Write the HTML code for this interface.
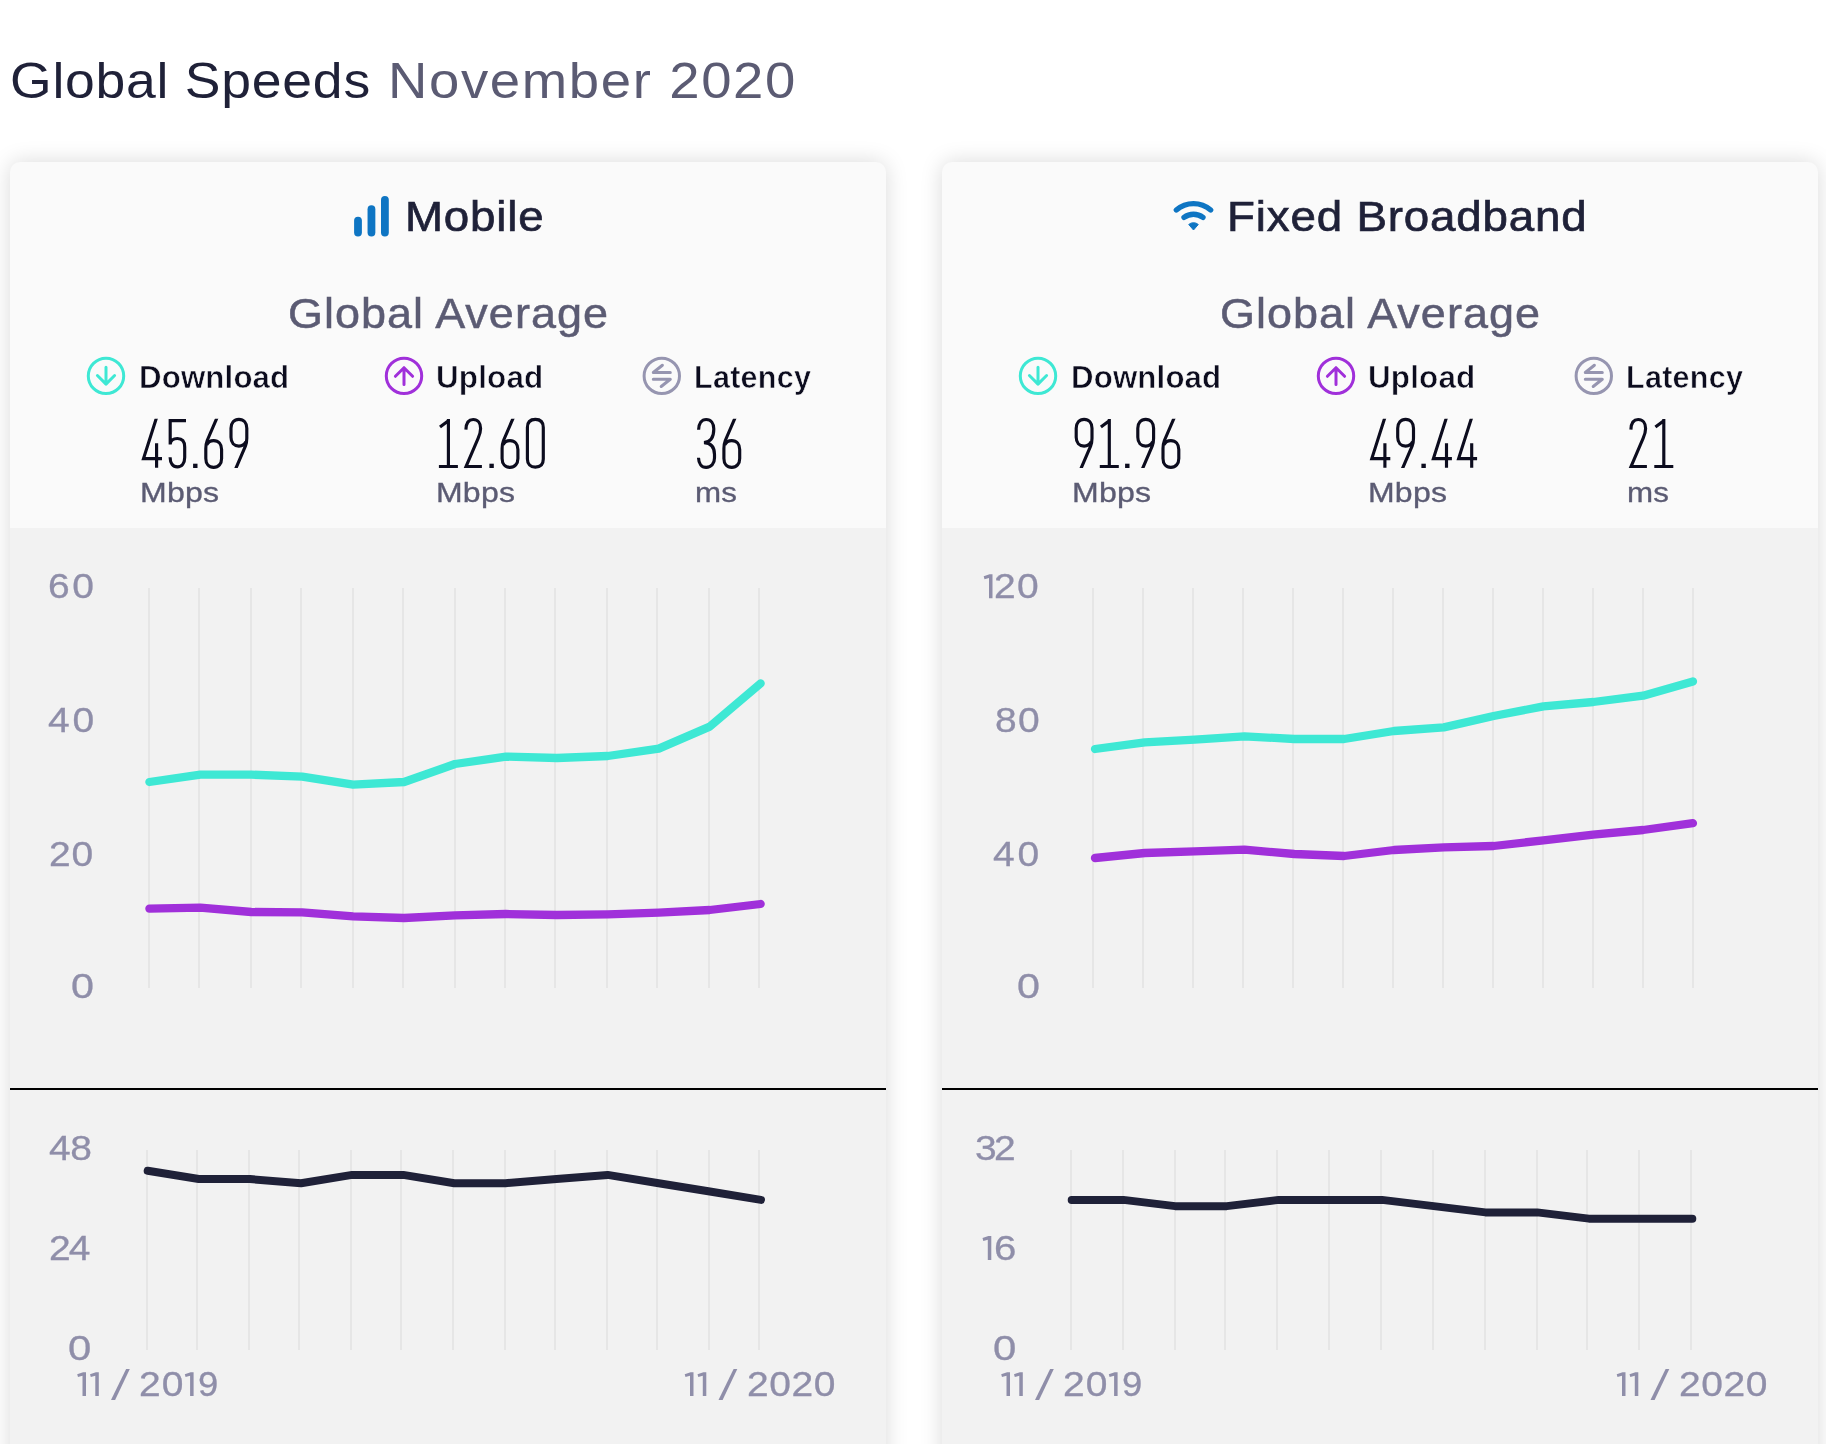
<!DOCTYPE html>
<html lang="en"><head><meta charset="utf-8"><title>Global Speeds November 2020</title>
<style>
html,body{margin:0;padding:0;}
body{width:1826px;height:1444px;background:#fff;font-family:"Liberation Sans", sans-serif;}
#page{position:relative;width:1826px;height:1444px;overflow:hidden;background:#fff;}
.card{position:absolute;top:162px;width:876px;height:1400px;border-radius:10px 10px 0 0;background:#f2f2f2;
  box-shadow:0 0 22px rgba(0,0,0,0.15);overflow:hidden;}
.card .head{position:absolute;left:0;top:0;width:100%;height:366px;background:#fafafa;}
.card .rule{position:absolute;left:0;top:926px;width:100%;height:2px;background:#000;}
.tx{position:absolute;margin:0;padding:0;white-space:pre;line-height:1;font-weight:400;font-family:"Liberation Sans", sans-serif;transform-origin:0 0;}
svg.ov{position:absolute;left:0;top:0;}
.labels,h1{will-change:transform;margin:0;height:0;}
</style></head>
<body>
<main id="page">
<h1 style="margin:0;font-size:0"><span id="t1" class="tx " style="left:10.28px;top:55.77px;font-size:50.00px;color:#1f2138;letter-spacing:0.714px;transform:scaleX(1.0700);">Global Speeds</span><span id="t2" class="tx " style="left:388.00px;top:55.77px;font-size:50.00px;color:#5b5b73;letter-spacing:1.497px;transform:scaleX(1.0900);">November 2020</span></h1>
<section class="card" id="mobile" style="left:10px"><div class="head"></div><div class="rule"></div></section>
<section class="card" id="fixed" style="left:942px"><div class="head"></div><div class="rule"></div></section>
<svg class="ov" width="1826" height="1444" viewBox="0 0 1826 1444"><defs><clipPath id="ck"><rect x="-6" y="-49.25" width="40" height="60"/></clipPath></defs><rect x="354.10" y="216.8" width="7.8" height="19.60" rx="3.9" fill="#0e75c3"/><rect x="367.55" y="205.3" width="7.8" height="31.10" rx="3.9" fill="#0e75c3"/><rect x="381.00" y="195.9" width="7.8" height="40.50" rx="3.9" fill="#0e75c3"/>
<circle cx="106" cy="375.9" r="17.7" fill="none" stroke="#3ee8d4" stroke-width="3"/><path d="M106,367.30 V383.90 M97.40,375.50 L106,384.10 L114.60,375.50" fill="none" stroke="#3ee8d4" stroke-width="3" stroke-linecap="round" stroke-linejoin="round"/>
<g aria-label="45.69"><g fill="none" stroke="#0c0c1e" stroke-width="3.15" stroke-linejoin="miter" stroke-miterlimit="6"><path clip-path="url(#ck)" transform="translate(141.60,468.00)" d="M15.14,-51 L1.9,-9.4 H20.4 M15,-24.8 V-0.2"/><path transform="translate(168.50,468.00)" d="M17.5,-47.4 H1.7 V-23.4 M1.7,-24 C2.2,-27.6 4.8,-29.5 8.9,-29.5 C13.6,-29.5 16.2,-26.3 16.2,-21 V-10.4 C16.2,-4.8 13.4,-1.1 8.8,-1.1 C4.3,-1.1 1.7,-4.8 1.6,-10.7"/><rect x="193.10" y="463.70" width="4.4" height="4.3" fill="#0c0c1e" stroke="none"/><path clip-path="url(#ck)" transform="translate(204.30,468.00)" d="M13.03,-51 L2.9,-27.5 C2,-25.2 1.5,-22.5 1.5,-19.5 V-9.6 C1.5,-4.2 4.6,-0.7 9.4,-0.7 C14.2,-0.7 17.3,-4.2 17.3,-9.6 V-18.6 C17.3,-24 14.2,-27.4 9.4,-27.4 C6.2,-27.4 3.6,-25.8 2.4,-23"/><path clip-path="url(#ck)" transform="translate(248.30,418.70) rotate(180)" d="M13.03,-51 L2.9,-27.5 C2,-25.2 1.5,-22.5 1.5,-19.5 V-9.6 C1.5,-4.2 4.6,-0.7 9.4,-0.7 C14.2,-0.7 17.3,-4.2 17.3,-9.6 V-18.6 C17.3,-24 14.2,-27.4 9.4,-27.4 C6.2,-27.4 3.6,-25.8 2.4,-23"/></g></g>
<circle cx="404" cy="375.9" r="17.7" fill="none" stroke="#a030da" stroke-width="3"/><path d="M404,384.50 V367.90 M395.40,376.30 L404,367.70 L412.60,376.30" fill="none" stroke="#a030da" stroke-width="3" stroke-linecap="round" stroke-linejoin="round"/>
<g aria-label="12.60"><g fill="none" stroke="#0c0c1e" stroke-width="3.15" stroke-linejoin="miter" stroke-miterlimit="6"><path transform="translate(438.90,468.00)" d="M1.1,-40.9 L9.5,-47.3 M9.5,-49 V-1.5 M0,-1.5 H19"/><path transform="translate(464.20,468.00)" d="M1.7,-38.4 C1.9,-44.6 4.4,-48.5 9,-48.5 C13.6,-48.5 16.4,-44.8 16.4,-39.6 C16.4,-36 15.4,-33 13.9,-29.6 L1.9,-1.5 H17.7"/><rect x="489.40" y="463.70" width="4.4" height="4.3" fill="#0c0c1e" stroke="none"/><path clip-path="url(#ck)" transform="translate(500.60,468.00)" d="M13.03,-51 L2.9,-27.5 C2,-25.2 1.5,-22.5 1.5,-19.5 V-9.6 C1.5,-4.2 4.6,-0.7 9.4,-0.7 C14.2,-0.7 17.3,-4.2 17.3,-9.6 V-18.6 C17.3,-24 14.2,-27.4 9.4,-27.4 C6.2,-27.4 3.6,-25.8 2.4,-23"/><path transform="translate(525.80,468.00)" d="M1.6,-40.6 C1.6,-45.8 4.6,-48.7 9.55,-48.7 C14.5,-48.7 17.5,-45.8 17.5,-40.6 V-9 C17.5,-3.8 14.5,-0.9 9.55,-0.9 C4.6,-0.9 1.6,-3.8 1.6,-9 Z"/></g></g>
<circle cx="661.8" cy="375.9" r="17.7" fill="none" stroke="#9695b0" stroke-width="3"/><path d="M670.30,372.50 H653.30 L662.40,365.30 M653.30,379.30 H670.30 L661.20,386.50" fill="none" stroke="#9695b0" stroke-width="3" stroke-linecap="round" stroke-linejoin="round"/>
<g aria-label="36"><g fill="none" stroke="#0c0c1e" stroke-width="3.15" stroke-linejoin="miter" stroke-miterlimit="6"><path transform="translate(697.20,468.00)" d="M1.4,-38.2 C1.6,-44.6 4.4,-48.5 9,-48.5 C13.8,-48.5 16.6,-44.6 16.6,-39 C16.6,-31 13.4,-26 6.8,-25.4 C13.9,-25 17.3,-20.5 17.3,-13.5 V-10 C17.3,-4.4 14,-0.6 9,-0.6 C4.3,-0.6 1.5,-4.4 1.3,-10.3"/><path clip-path="url(#ck)" transform="translate(722.40,468.00)" d="M13.03,-51 L2.9,-27.5 C2,-25.2 1.5,-22.5 1.5,-19.5 V-9.6 C1.5,-4.2 4.6,-0.7 9.4,-0.7 C14.2,-0.7 17.3,-4.2 17.3,-9.6 V-18.6 C17.3,-24 14.2,-27.4 9.4,-27.4 C6.2,-27.4 3.6,-25.8 2.4,-23"/></g></g>
<path d="M149,588 V988 M199,588 V988 M251,588 V988 M301,588 V988 M353,588 V988 M403,588 V988 M455,588 V988 M505,588 V988 M555,588 V988 M607,588 V988 M657,588 V988 M709,588 V988 M759,588 V988" stroke="#e6e6e6" stroke-width="2" fill="none"/><polyline points="149.40,782.00 200.34,774.67 251.28,774.67 302.21,776.67 353.15,784.67 404.09,782.00 455.02,764.00 505.96,756.67 556.90,758.00 607.84,756.00 658.77,748.67 709.71,726.67 760.65,683.40" fill="none" stroke="#3ee8d4" stroke-width="8.3" stroke-linecap="round" stroke-linejoin="round"/><polyline points="149.40,908.67 200.34,907.67 251.28,912.00 302.21,912.33 353.15,916.33 404.09,918.00 455.02,915.33 505.96,914.00 556.90,915.00 607.84,914.33 658.77,912.67 709.71,910.00 760.65,904.00" fill="none" stroke="#a030da" stroke-width="8.3" stroke-linecap="round" stroke-linejoin="round"/><path d="M147,1150 V1350 M197,1150 V1350 M249,1150 V1350 M299,1150 V1350 M351,1150 V1350 M401,1150 V1350 M453,1150 V1350 M505,1150 V1350 M555,1150 V1350 M607,1150 V1350 M657,1150 V1350 M709,1150 V1350 M759,1150 V1350" stroke="#e6e6e6" stroke-width="2" fill="none"/><polyline points="147.70,1170.73 198.80,1179.07 249.91,1179.07 301.01,1183.23 352.12,1174.90 403.22,1174.90 454.32,1183.23 505.43,1183.23 556.53,1179.07 607.64,1174.90 658.74,1183.23 709.85,1191.57 760.95,1199.90" fill="none" stroke="#1f2138" stroke-width="8.0" stroke-linecap="round" stroke-linejoin="round"/>
<g aria-label="11 /"><polygon fill="#8f8ea9" points="86.00,1372.20 83.10,1372.20 77.20,1374.20 78.00,1377.10 82.50,1375.80 82.50,1396.10 86.00,1396.10"/><polygon fill="#8f8ea9" points="98.80,1372.20 95.90,1372.20 90.00,1374.20 90.80,1377.10 95.30,1375.80 95.30,1396.10 98.80,1396.10"/><polygon fill="#8f8ea9" points="111.00,1400.10 115.10,1400.10 129.80,1369.00 126.10,1369.00"/></g>
<polygon fill="#8f8ea9" points="193.60,1372.20 190.70,1372.20 184.80,1374.20 185.60,1377.10 190.10,1375.80 190.10,1396.10 193.60,1396.10"/>
<g aria-label="11 /"><polygon fill="#8f8ea9" points="693.50,1372.20 690.60,1372.20 684.70,1374.20 685.50,1377.10 690.00,1375.80 690.00,1396.10 693.50,1396.10"/><polygon fill="#8f8ea9" points="706.30,1372.20 703.40,1372.20 697.50,1374.20 698.30,1377.10 702.80,1375.80 702.80,1396.10 706.30,1396.10"/><polygon fill="#8f8ea9" points="718.50,1400.10 722.60,1400.10 737.30,1369.00 733.60,1369.00"/></g>
<path d="M1176.35,209.93 A26.4,26.4 0 0 1 1210.65,209.93 M1184.05,217.46 A15.7,15.7 0 0 1 1202.95,217.46" fill="none" stroke="#0e75c3" stroke-width="5.4" stroke-linecap="round"/><path d="M1193.5,230.0 L1188.71,224.49 A7.3,7.3 0 0 1 1198.29,224.49 Z" fill="#0e75c3" stroke="#0e75c3" stroke-width="1" stroke-linejoin="round"/>
<circle cx="1038" cy="375.9" r="17.7" fill="none" stroke="#3ee8d4" stroke-width="3"/><path d="M1038,367.30 V383.90 M1029.40,375.50 L1038,384.10 L1046.60,375.50" fill="none" stroke="#3ee8d4" stroke-width="3" stroke-linecap="round" stroke-linejoin="round"/>
<g aria-label="91.96"><g fill="none" stroke="#0c0c1e" stroke-width="3.15" stroke-linejoin="miter" stroke-miterlimit="6"><path clip-path="url(#ck)" transform="translate(1093.50,418.70) rotate(180)" d="M13.03,-51 L2.9,-27.5 C2,-25.2 1.5,-22.5 1.5,-19.5 V-9.6 C1.5,-4.2 4.6,-0.7 9.4,-0.7 C14.2,-0.7 17.3,-4.2 17.3,-9.6 V-18.6 C17.3,-24 14.2,-27.4 9.4,-27.4 C6.2,-27.4 3.6,-25.8 2.4,-23"/><path transform="translate(1099.80,468.00)" d="M1.1,-40.9 L9.5,-47.3 M9.5,-49 V-1.5 M0,-1.5 H19"/><rect x="1125.10" y="463.70" width="4.4" height="4.3" fill="#0c0c1e" stroke="none"/><path clip-path="url(#ck)" transform="translate(1155.10,418.70) rotate(180)" d="M13.03,-51 L2.9,-27.5 C2,-25.2 1.5,-22.5 1.5,-19.5 V-9.6 C1.5,-4.2 4.6,-0.7 9.4,-0.7 C14.2,-0.7 17.3,-4.2 17.3,-9.6 V-18.6 C17.3,-24 14.2,-27.4 9.4,-27.4 C6.2,-27.4 3.6,-25.8 2.4,-23"/><path clip-path="url(#ck)" transform="translate(1161.50,468.00)" d="M13.03,-51 L2.9,-27.5 C2,-25.2 1.5,-22.5 1.5,-19.5 V-9.6 C1.5,-4.2 4.6,-0.7 9.4,-0.7 C14.2,-0.7 17.3,-4.2 17.3,-9.6 V-18.6 C17.3,-24 14.2,-27.4 9.4,-27.4 C6.2,-27.4 3.6,-25.8 2.4,-23"/></g></g>
<circle cx="1336" cy="375.9" r="17.7" fill="none" stroke="#a030da" stroke-width="3"/><path d="M1336,384.50 V367.90 M1327.40,376.30 L1336,367.70 L1344.60,376.30" fill="none" stroke="#a030da" stroke-width="3" stroke-linecap="round" stroke-linejoin="round"/>
<g aria-label="49.44"><g fill="none" stroke="#0c0c1e" stroke-width="3.15" stroke-linejoin="miter" stroke-miterlimit="6"><path clip-path="url(#ck)" transform="translate(1369.90,468.00)" d="M15.14,-51 L1.9,-9.4 H20.4 M15,-24.8 V-0.2"/><path clip-path="url(#ck)" transform="translate(1415.00,418.70) rotate(180)" d="M13.03,-51 L2.9,-27.5 C2,-25.2 1.5,-22.5 1.5,-19.5 V-9.6 C1.5,-4.2 4.6,-0.7 9.4,-0.7 C14.2,-0.7 17.3,-4.2 17.3,-9.6 V-18.6 C17.3,-24 14.2,-27.4 9.4,-27.4 C6.2,-27.4 3.6,-25.8 2.4,-23"/><rect x="1421.40" y="463.70" width="4.4" height="4.3" fill="#0c0c1e" stroke="none"/><path clip-path="url(#ck)" transform="translate(1431.50,468.00)" d="M15.14,-51 L1.9,-9.4 H20.4 M15,-24.8 V-0.2"/><path clip-path="url(#ck)" transform="translate(1456.70,468.00)" d="M15.14,-51 L1.9,-9.4 H20.4 M15,-24.8 V-0.2"/></g></g>
<circle cx="1593.8" cy="375.9" r="17.7" fill="none" stroke="#9695b0" stroke-width="3"/><path d="M1602.30,372.50 H1585.30 L1594.40,365.30 M1585.30,379.30 H1602.30 L1593.20,386.50" fill="none" stroke="#9695b0" stroke-width="3" stroke-linecap="round" stroke-linejoin="round"/>
<g aria-label="21"><g fill="none" stroke="#0c0c1e" stroke-width="3.15" stroke-linejoin="miter" stroke-miterlimit="6"><path transform="translate(1629.20,468.00)" d="M1.7,-38.4 C1.9,-44.6 4.4,-48.5 9,-48.5 C13.6,-48.5 16.4,-44.8 16.4,-39.6 C16.4,-36 15.4,-33 13.9,-29.6 L1.9,-1.5 H17.7"/><path transform="translate(1654.30,468.00)" d="M1.1,-40.9 L9.5,-47.3 M9.5,-49 V-1.5 M0,-1.5 H19"/></g></g>
<path d="M1093,588 V988 M1143,588 V988 M1193,588 V988 M1243,588 V988 M1293,588 V988 M1343,588 V988 M1393,588 V988 M1443,588 V988 M1493,588 V988 M1543,588 V988 M1593,588 V988 M1643,588 V988 M1693,588 V988" stroke="#e6e6e6" stroke-width="2" fill="none"/><polyline points="1095.00,749.00 1144.83,742.33 1194.66,739.67 1244.49,736.33 1294.32,739.00 1344.15,739.00 1393.97,731.00 1443.80,727.33 1493.63,716.00 1543.46,706.33 1593.29,702.00 1643.12,695.67 1692.95,681.47" fill="none" stroke="#3ee8d4" stroke-width="8.3" stroke-linecap="round" stroke-linejoin="round"/><polyline points="1095.00,858.00 1144.83,853.00 1194.66,851.33 1244.49,849.67 1294.32,854.00 1344.15,856.00 1393.97,850.00 1443.80,847.33 1493.63,846.00 1543.46,840.33 1593.29,834.67 1643.12,830.00 1692.95,823.20" fill="none" stroke="#a030da" stroke-width="8.3" stroke-linecap="round" stroke-linejoin="round"/><path d="M1071,1150 V1350 M1123,1150 V1350 M1175,1150 V1350 M1225,1150 V1350 M1277,1150 V1350 M1329,1150 V1350 M1381,1150 V1350 M1433,1150 V1350 M1485,1150 V1350 M1537,1150 V1350 M1587,1150 V1350 M1639,1150 V1350 M1691,1150 V1350" stroke="#e6e6e6" stroke-width="2" fill="none"/><polyline points="1071.70,1199.90 1123.42,1199.90 1175.13,1206.15 1226.85,1206.15 1278.57,1199.90 1330.28,1199.90 1382.00,1199.90 1433.72,1206.15 1485.43,1212.40 1537.15,1212.40 1588.87,1218.65 1640.58,1218.65 1692.30,1218.65" fill="none" stroke="#1f2138" stroke-width="8.0" stroke-linecap="round" stroke-linejoin="round"/>
<polygon fill="#8f8ea9" points="992.50,574.30 989.60,574.30 983.70,576.30 984.50,579.20 989.00,577.90 989.00,598.20 992.50,598.20"/>
<polygon fill="#8f8ea9" points="991.30,1236.10 988.40,1236.10 982.50,1238.10 983.30,1241.00 987.80,1239.70 987.80,1260.00 991.30,1260.00"/>
<g aria-label="11 /"><polygon fill="#8f8ea9" points="1010.00,1372.20 1007.10,1372.20 1001.20,1374.20 1002.00,1377.10 1006.50,1375.80 1006.50,1396.10 1010.00,1396.10"/><polygon fill="#8f8ea9" points="1022.80,1372.20 1019.90,1372.20 1014.00,1374.20 1014.80,1377.10 1019.30,1375.80 1019.30,1396.10 1022.80,1396.10"/><polygon fill="#8f8ea9" points="1035.00,1400.10 1039.10,1400.10 1053.80,1369.00 1050.10,1369.00"/></g>
<polygon fill="#8f8ea9" points="1117.60,1372.20 1114.70,1372.20 1108.80,1374.20 1109.60,1377.10 1114.10,1375.80 1114.10,1396.10 1117.60,1396.10"/>
<g aria-label="11 /"><polygon fill="#8f8ea9" points="1625.50,1372.20 1622.60,1372.20 1616.70,1374.20 1617.50,1377.10 1622.00,1375.80 1622.00,1396.10 1625.50,1396.10"/><polygon fill="#8f8ea9" points="1638.30,1372.20 1635.40,1372.20 1629.50,1374.20 1630.30,1377.10 1634.80,1375.80 1634.80,1396.10 1638.30,1396.10"/><polygon fill="#8f8ea9" points="1650.50,1400.10 1654.60,1400.10 1669.30,1369.00 1665.60,1369.00"/></g></svg>
<div class="labels" id="mobile-labels"><h2 id="mobile-h" class="tx " style="left:404.81px;top:195.84px;font-size:42.30px;color:#1f2138;letter-spacing:0.755px;-webkit-text-stroke:0.7px #1f2138;transform:scaleX(1.0800);">Mobile</h2>
<h3 id="mobile-ga" class="tx " style="left:287.82px;top:292.75px;font-size:42.00px;color:#5b5b73;letter-spacing:0.968px;-webkit-text-stroke:0.5px #5b5b73;transform:scaleX(1.0700);">Global Average</h3>
<span id="mobile-l0" class="tx lbl" style="left:139.04px;top:362.13px;font-size:30.50px;color:#0c0c1e;font-weight:700;letter-spacing:0.152px;-webkit-text-stroke:0.55px #fafafa;transform:scaleX(1.0232);">Download</span>
<span id="mobile-u0" class="tx unit" style="left:139.61px;top:477.73px;font-size:28.20px;color:#5b5b73;letter-spacing:0.182px;-webkit-text-stroke:0.35px #5b5b73;transform:scaleX(1.1365);">Mbps</span>
<span id="mobile-l1" class="tx lbl" style="left:435.80px;top:362.13px;font-size:30.50px;color:#0c0c1e;font-weight:700;letter-spacing:0.171px;-webkit-text-stroke:0.55px #fafafa;transform:scaleX(1.0289);">Upload</span>
<span id="mobile-u1" class="tx unit" style="left:436.01px;top:477.73px;font-size:28.20px;color:#5b5b73;letter-spacing:0.195px;-webkit-text-stroke:0.35px #5b5b73;transform:scaleX(1.1351);">Mbps</span>
<span id="mobile-l2" class="tx lbl" style="left:694.06px;top:362.13px;font-size:30.50px;color:#0c0c1e;font-weight:700;letter-spacing:0.247px;-webkit-text-stroke:0.55px #fafafa;transform:scaleX(1.0011);">Latency</span>
<span id="mobile-u2" class="tx unit" style="left:694.77px;top:477.73px;font-size:28.20px;color:#5b5b73;letter-spacing:0.213px;-webkit-text-stroke:0.35px #5b5b73;transform:scaleX(1.1104);">ms</span>
<span id="mobile-y0" class="tx ax" style="left:47.52px;top:569.00px;font-size:34.50px;color:#8f8ea9;letter-spacing:2.272px;-webkit-text-stroke:0.3px #8f8ea9;transform:scaleX(1.1300);">60</span>
<span id="mobile-y1" class="tx ax" style="left:47.50px;top:702.90px;font-size:34.50px;color:#8f8ea9;letter-spacing:2.439px;-webkit-text-stroke:0.3px #8f8ea9;transform:scaleX(1.1300);">40</span>
<span id="mobile-y2" class="tx ax" style="left:49.07px;top:836.80px;font-size:34.50px;color:#8f8ea9;letter-spacing:0.771px;-webkit-text-stroke:0.3px #8f8ea9;transform:scaleX(1.1300);">20</span>
<span id="mobile-y3" class="tx ax" style="left:70.71px;top:968.80px;font-size:34.50px;color:#8f8ea9;letter-spacing:0.200px;-webkit-text-stroke:0.3px #8f8ea9;transform:scaleX(1.1966);">0</span>
<span id="mobile-ly0" class="tx ax" style="left:48.60px;top:1131.00px;font-size:34.50px;color:#8f8ea9;letter-spacing:-0.439px;-webkit-text-stroke:0.3px #8f8ea9;transform:scaleX(1.1300);">48</span>
<span id="mobile-ly1" class="tx ax" style="left:49.47px;top:1230.80px;font-size:34.50px;color:#8f8ea9;letter-spacing:-1.643px;-webkit-text-stroke:0.3px #8f8ea9;transform:scaleX(1.1300);">24</span>
<span id="mobile-ly2" class="tx ax" style="left:68.30px;top:1330.80px;font-size:34.50px;color:#8f8ea9;letter-spacing:0.200px;-webkit-text-stroke:0.3px #8f8ea9;transform:scaleX(1.2140);">0</span>
<span id="mobile-x0c" class="tx ax" style="left:139.07px;top:1366.90px;font-size:34.50px;color:#8f8ea9;letter-spacing:0.948px;-webkit-text-stroke:0.3px #8f8ea9;transform:scaleX(1.1300);">20</span>
<span id="mobile-x0d" class="tx ax" style="left:197.70px;top:1366.90px;font-size:34.50px;color:#8f8ea9;letter-spacing:0.200px;-webkit-text-stroke:0.3px #8f8ea9;transform:scaleX(1.0557);">9</span>
<span id="mobile-x1c" class="tx ax" style="left:746.87px;top:1366.90px;font-size:34.50px;color:#8f8ea9;letter-spacing:0.487px;-webkit-text-stroke:0.3px #8f8ea9;transform:scaleX(1.1300);">2020</span></div>
<div class="labels" id="fixed-labels"><h2 id="fixed-h" class="tx " style="left:1226.61px;top:195.84px;font-size:42.30px;color:#1f2138;letter-spacing:0.772px;-webkit-text-stroke:0.7px #1f2138;transform:scaleX(1.0800);">Fixed Broadband</h2>
<h3 id="fixed-ga" class="tx " style="left:1219.82px;top:292.75px;font-size:42.00px;color:#5b5b73;letter-spacing:0.968px;-webkit-text-stroke:0.5px #5b5b73;transform:scaleX(1.0700);">Global Average</h3>
<span id="fixed-l0" class="tx lbl" style="left:1071.04px;top:362.13px;font-size:30.50px;color:#0c0c1e;font-weight:700;letter-spacing:0.152px;-webkit-text-stroke:0.55px #fafafa;transform:scaleX(1.0232);">Download</span>
<span id="fixed-u0" class="tx unit" style="left:1071.61px;top:477.73px;font-size:28.20px;color:#5b5b73;letter-spacing:0.182px;-webkit-text-stroke:0.35px #5b5b73;transform:scaleX(1.1365);">Mbps</span>
<span id="fixed-l1" class="tx lbl" style="left:1367.80px;top:362.13px;font-size:30.50px;color:#0c0c1e;font-weight:700;letter-spacing:0.171px;-webkit-text-stroke:0.55px #fafafa;transform:scaleX(1.0289);">Upload</span>
<span id="fixed-u1" class="tx unit" style="left:1368.01px;top:477.73px;font-size:28.20px;color:#5b5b73;letter-spacing:0.195px;-webkit-text-stroke:0.35px #5b5b73;transform:scaleX(1.1351);">Mbps</span>
<span id="fixed-l2" class="tx lbl" style="left:1626.06px;top:362.13px;font-size:30.50px;color:#0c0c1e;font-weight:700;letter-spacing:0.247px;-webkit-text-stroke:0.55px #fafafa;transform:scaleX(1.0011);">Latency</span>
<span id="fixed-u2" class="tx unit" style="left:1626.77px;top:477.73px;font-size:28.20px;color:#5b5b73;letter-spacing:0.213px;-webkit-text-stroke:0.35px #5b5b73;transform:scaleX(1.1104);">ms</span>
<span id="fixed-y0b" class="tx ax" style="left:994.37px;top:569.00px;font-size:34.50px;color:#8f8ea9;letter-spacing:1.106px;-webkit-text-stroke:0.3px #8f8ea9;transform:scaleX(1.1300);">20</span>
<span id="fixed-y1" class="tx ax" style="left:994.70px;top:702.90px;font-size:34.50px;color:#8f8ea9;letter-spacing:1.156px;-webkit-text-stroke:0.3px #8f8ea9;transform:scaleX(1.1300);">80</span>
<span id="fixed-y2" class="tx ax" style="left:993.40px;top:836.80px;font-size:34.50px;color:#8f8ea9;letter-spacing:2.439px;-webkit-text-stroke:0.3px #8f8ea9;transform:scaleX(1.1300);">40</span>
<span id="fixed-y3" class="tx ax" style="left:1016.71px;top:968.80px;font-size:34.50px;color:#8f8ea9;letter-spacing:0.200px;-webkit-text-stroke:0.3px #8f8ea9;transform:scaleX(1.1966);">0</span>
<span id="fixed-ly0" class="tx ax" style="left:975.41px;top:1131.00px;font-size:34.50px;color:#8f8ea9;letter-spacing:-2.419px;-webkit-text-stroke:0.3px #8f8ea9;transform:scaleX(1.1300);">32</span>
<span id="fixed-ly1b" class="tx ax" style="left:993.91px;top:1230.80px;font-size:34.50px;color:#8f8ea9;letter-spacing:0.200px;-webkit-text-stroke:0.3px #8f8ea9;transform:scaleX(1.1657);">6</span>
<span id="fixed-ly2" class="tx ax" style="left:993.00px;top:1330.80px;font-size:34.50px;color:#8f8ea9;letter-spacing:0.200px;-webkit-text-stroke:0.3px #8f8ea9;transform:scaleX(1.2140);">0</span>
<span id="fixed-x0c" class="tx ax" style="left:1063.07px;top:1366.90px;font-size:34.50px;color:#8f8ea9;letter-spacing:0.948px;-webkit-text-stroke:0.3px #8f8ea9;transform:scaleX(1.1300);">20</span>
<span id="fixed-x0d" class="tx ax" style="left:1121.70px;top:1366.90px;font-size:34.50px;color:#8f8ea9;letter-spacing:0.200px;-webkit-text-stroke:0.3px #8f8ea9;transform:scaleX(1.0557);">9</span>
<span id="fixed-x1c" class="tx ax" style="left:1678.87px;top:1366.90px;font-size:34.50px;color:#8f8ea9;letter-spacing:0.487px;-webkit-text-stroke:0.3px #8f8ea9;transform:scaleX(1.1300);">2020</span></div>
</main>
</body></html>
